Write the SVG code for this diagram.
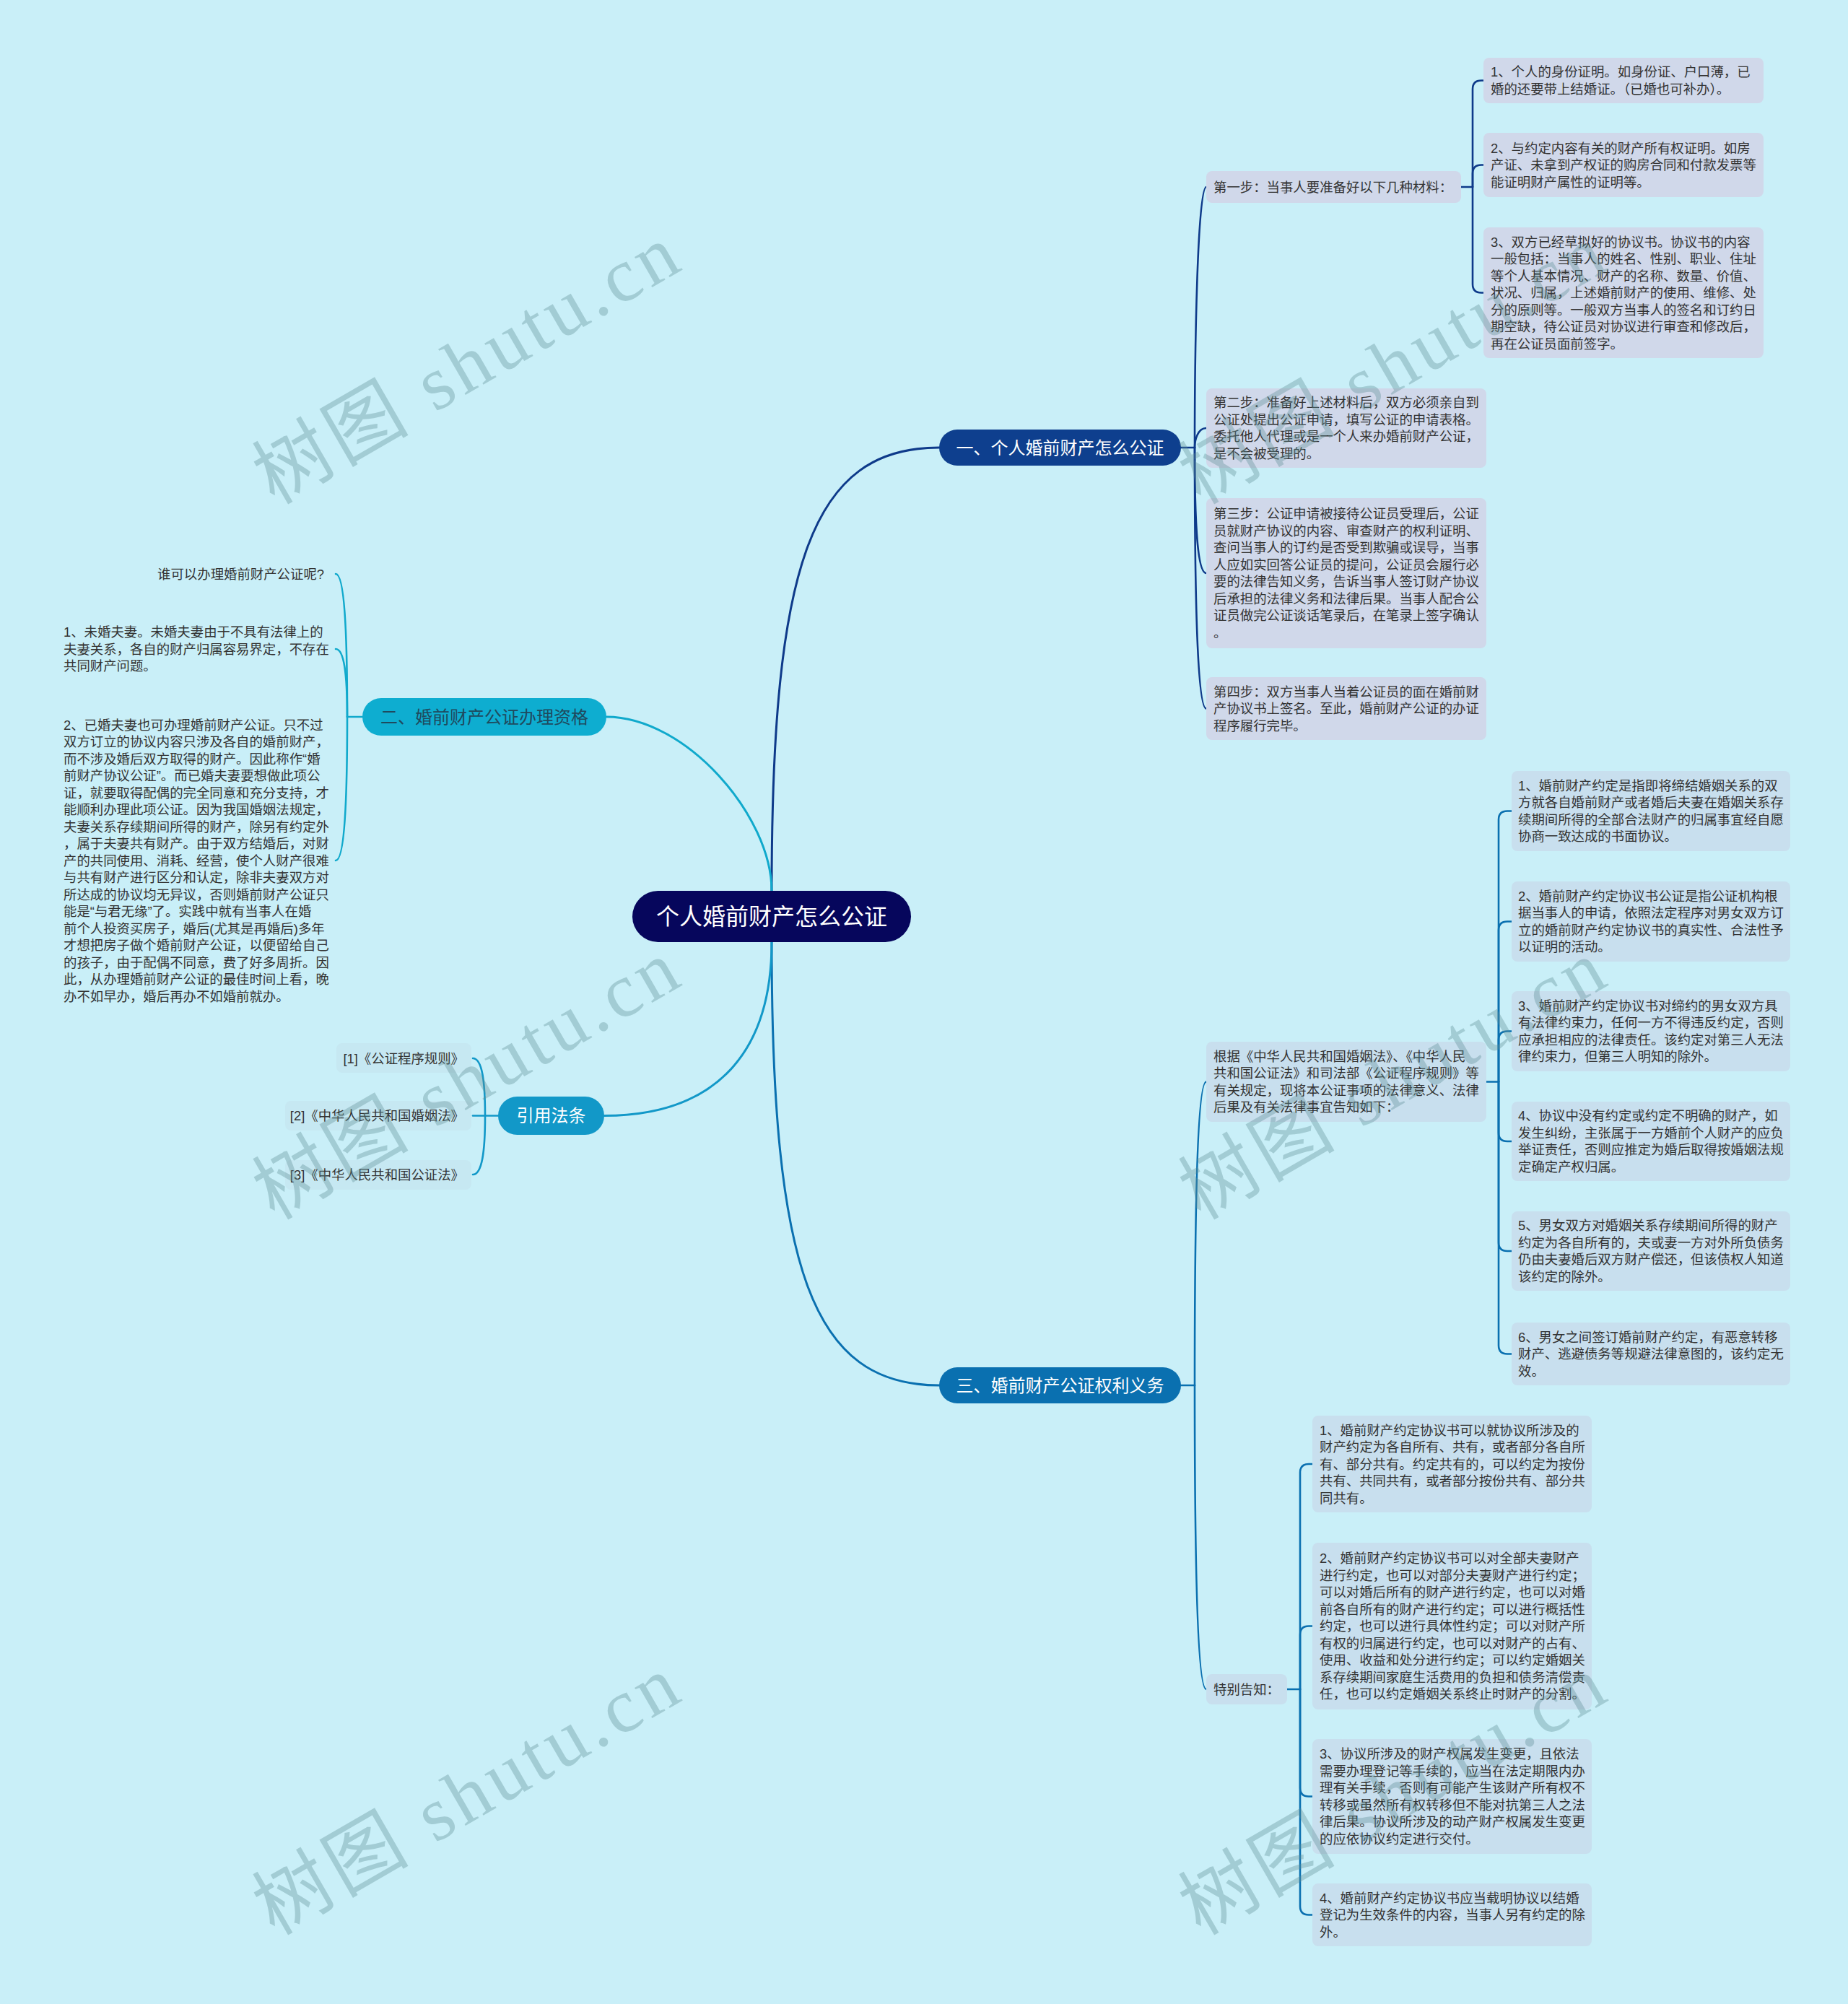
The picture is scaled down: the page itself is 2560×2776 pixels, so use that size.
<svg xmlns="http://www.w3.org/2000/svg" width="2560" height="2776" viewBox="0 0 2560 2776">
<style>
.t{font-family:"Liberation Sans","Noto Sans CJK SC",sans-serif;font-size:18.4px;fill:#333}
.h{font-family:"Liberation Sans","Noto Sans CJK SC",sans-serif;font-size:24px;fill:#fff;text-anchor:middle}
.r{font-family:"Liberation Sans","Noto Sans CJK SC",sans-serif;font-size:32px;fill:#fff;text-anchor:middle}
.b1{fill:#d0d8ea}
.b3{fill:#c8dfee}
.br{fill:#c6e8f2}
.lk{fill:none;stroke-width:2.6;stroke-linecap:round}
.m{fill:none;stroke-width:3;stroke-linecap:round}
.wm{font-family:"Liberation Serif","Noto Sans CJK SC",serif;font-size:106px;fill:#5f8f96;opacity:0.36;letter-spacing:6px}
</style>
<rect width="2560" height="2776" fill="#c9eff8"/>

<g id="connectors">
  <path class="m" stroke="#0e3a8a" d="M1069 1234 C1069 780 1125 620 1301 620"/>
  <path class="m" stroke="#0a70b0" d="M1069 1305 C1069 1759 1125 1919 1301 1919"/>
  <path class="m" stroke="#10a9cc" d="M1069 1234 C1069 1130 950 993 840 993"/>
  <path class="m" stroke="#1298c8" d="M1069 1305 C1069 1470 980 1545.5 837 1545.5"/>

  <g stroke="#0e3a8a">
    <path class="lk" d="M1636 620 H1655"/>
    <path class="lk" d="M1655 620 C1655 475.6 1659 259 1671 259"/>
    <path class="lk" d="M1655 620 C1655 609.8 1659 593 1671 593"/>
    <path class="lk" d="M1655 620 C1655 729.6 1659 794 1671 794"/>
    <path class="lk" d="M1655 620 C1655 836.9 1659 981.5 1671 981.5"/>
    <path class="lk" d="M2024 259 H2040"/>
    <path class="lk" d="M2040 259 V123.5 Q2040 111.5 2052 111.5 H2055"/>
    <path class="lk" d="M2040 259 V240.5 Q2040 228.5 2052 228.5 H2055"/>
    <path class="lk" d="M2040 259 V393.5 Q2040 405.5 2052 405.5 H2055"/>
  </g>

  <g stroke="#0a70b0">
    <path class="lk" d="M1636 1919 H1655"/>
    <path class="lk" d="M1655 1919 C1655 1667 1659 1498.5 1671 1498.5"/>
    <path class="lk" d="M1655 1919 C1655 2168.4 1659 2340 1671 2340"/>
    <path class="lk" d="M2059 1498.5 H2076"/>
    <path class="lk" d="M2076 1498.5 V1135.5 Q2076 1123.5 2088 1123.5 H2094"/>
    <path class="lk" d="M2076 1498.5 V1288.5 Q2076 1276.5 2088 1276.5 H2094"/>
    <path class="lk" d="M2076 1498.5 V1440.5 Q2076 1428.5 2088 1428.5 H2094"/>
    <path class="lk" d="M2076 1498.5 V1569 Q2076 1581 2088 1581 H2094"/>
    <path class="lk" d="M2076 1498.5 V1721 Q2076 1733 2088 1733 H2094"/>
    <path class="lk" d="M2076 1498.5 V1863.5 Q2076 1875.5 2088 1875.5 H2094"/>
    <path class="lk" d="M1783 2340 H1801"/>
    <path class="lk" d="M1801 2340 V2040 Q1801 2028 1813 2028 H1818"/>
    <path class="lk" d="M1801 2340 V2264.5 Q1801 2252.5 1813 2252.5 H1818"/>
    <path class="lk" d="M1801 2340 V2476.5 Q1801 2488.5 1813 2488.5 H1818"/>
    <path class="lk" d="M1801 2340 V2640.5 Q1801 2652.5 1813 2652.5 H1818"/>
  </g>

  <g stroke="#10a9cc">
    <path class="lk" d="M502 993 H481"/>
    <path class="lk" d="M481 993 C481 874 477 795 465 795"/>
    <path class="lk" d="M481 993 C481 936 477 899 465 899"/>
    <path class="lk" d="M481 993 C481 1112 477 1192 465 1192"/>
  </g>

  <g stroke="#1298c8">
    <path class="lk" d="M690 1545.5 H672"/>
    <path class="lk" d="M672 1545.5 C672 1498 668 1466 655 1466"/>
    <path class="lk" d="M672 1545.5 H655"/>
    <path class="lk" d="M672 1545.5 C672 1594 668 1627 655 1627"/>
  </g>
</g>

<g id="node-root">
  <rect x="876" y="1234" width="386" height="71" rx="35.5" fill="#06065c"/>
  <text class="r" x="1069" y="1281">个人婚前财产怎么公证</text>
</g>

<g id="node-b1">
  <rect x="1301" y="595" width="335" height="50" rx="25" fill="#0e3f8e"/>
  <text class="h" x="1468.5" y="628.6">一、个人婚前财产怎么公证</text>
</g>
<g id="node-b1-step1">
  <rect class="b1" x="1671" y="237" width="353" height="44" rx="8"/>
  <text class="t" x="1681" y="265.6">第一步：当事人要准备好以下几种材料：</text>
</g>
<g id="node-b1-step1-1">
  <rect class="b1" x="2055" y="80" width="388" height="63" rx="8"/>
  <text class="t" x="2065" y="106.35">1、个人的身份证明。如身份证、户口薄，已<tspan x="2065" dy="23.5">婚的还要带上结婚证。（已婚也可补办）。</tspan></text>
</g>
<g id="node-b1-step1-2">
  <rect class="b1" x="2055" y="184" width="388" height="89" rx="8"/>
  <text class="t" x="2065" y="211.6">2、与约定内容有关的财产所有权证明。如房<tspan x="2065" dy="23.5">产证、未拿到产权证的购房合同和付款发票等</tspan><tspan x="2065" dy="23.5">能证明财产属性的证明等。</tspan></text>
</g>
<g id="node-b1-step1-3">
  <rect class="b1" x="2055" y="315" width="388" height="181" rx="8"/>
  <text class="t" x="2065" y="341.6">3、双方已经草拟好的协议书。协议书的内容<tspan x="2065" dy="23.5">一般包括：当事人的姓名、性别、职业、住址</tspan><tspan x="2065" dy="23.5">等个人基本情况、财产的名称、数量、价值、</tspan><tspan x="2065" dy="23.5">状况、归属，上述婚前财产的使用、维修、处</tspan><tspan x="2065" dy="23.5">分的原则等。一般双方当事人的签名和订约日</tspan><tspan x="2065" dy="23.5">期空缺，待公证员对协议进行审查和修改后，</tspan><tspan x="2065" dy="23.5">再在公证员面前签字。</tspan></text>
</g>
<g id="node-b1-step2">
  <rect class="b1" x="1671" y="538" width="388" height="110" rx="8"/>
  <text class="t" x="1681" y="564.35">第二步：准备好上述材料后，双方必须亲自到<tspan x="1681" dy="23.5">公证处提出公证申请，填写公证的申请表格。</tspan><tspan x="1681" dy="23.5">委托他人代理或是一个人来办婚前财产公证，</tspan><tspan x="1681" dy="23.5">是不会被受理的。</tspan></text>
</g>
<g id="node-b1-step3">
  <rect class="b1" x="1671" y="690" width="388" height="208" rx="8"/>
  <text class="t" x="1681" y="718.35">第三步：公证申请被接待公证员受理后，公证<tspan x="1681" dy="23.5">员就财产协议的内容、审查财产的权利证明、</tspan><tspan x="1681" dy="23.5">查问当事人的订约是否受到欺骗或误导，当事</tspan><tspan x="1681" dy="23.5">人应如实回答公证员的提问，公证员会履行必</tspan><tspan x="1681" dy="23.5">要的法律告知义务，告诉当事人签订财产协议</tspan><tspan x="1681" dy="23.5">后承担的法律义务和法律后果。当事人配合公</tspan><tspan x="1681" dy="23.5">证员做完公证谈话笔录后，在笔录上签字确认</tspan><tspan x="1681" dy="23.5">。</tspan></text>
</g>
<g id="node-b1-step4">
  <rect class="b1" x="1671" y="938" width="388" height="87" rx="8"/>
  <text class="t" x="1681" y="964.6">第四步：双方当事人当着公证员的面在婚前财<tspan x="1681" dy="23.5">产协议书上签名。至此，婚前财产公证的办证</tspan><tspan x="1681" dy="23.5">程序履行完毕。</tspan></text>
</g>

<g id="node-b2">
  <rect x="502" y="967" width="338" height="52" rx="26" fill="#0eadd0"/>
  <text class="h" x="671" y="1001.6" style="fill:#1f4a5e">二、婚前财产公证办理资格</text>
</g>
<g id="node-b2-q">
  <text class="t" x="449" y="801.6" text-anchor="end">谁可以办理婚前财产公证呢?</text>
</g>
<g id="node-b2-1">
  <text class="t" x="88" y="882.1">1、未婚夫妻。未婚夫妻由于不具有法律上的<tspan x="88" dy="23.5">夫妻关系，各自的财产归属容易界定，不存在</tspan><tspan x="88" dy="23.5">共同财产问题。</tspan></text>
</g>
<g id="node-b2-2">
  <text class="t" x="88" y="1010.6">2、已婚夫妻也可办理婚前财产公证。只不过<tspan x="88" dy="23.5">双方订立的协议内容只涉及各自的婚前财产，</tspan><tspan x="88" dy="23.5">而不涉及婚后双方取得的财产。因此称作“婚</tspan><tspan x="88" dy="23.5">前财产协议公证”。而已婚夫妻要想做此项公</tspan><tspan x="88" dy="23.5">证，就要取得配偶的完全同意和充分支持，才</tspan><tspan x="88" dy="23.5">能顺利办理此项公证。因为我国婚姻法规定，</tspan><tspan x="88" dy="23.5">夫妻关系存续期间所得的财产，除另有约定外</tspan><tspan x="88" dy="23.5">，属于夫妻共有财产。由于双方结婚后，对财</tspan><tspan x="88" dy="23.5">产的共同使用、消耗、经营，使个人财产很难</tspan><tspan x="88" dy="23.5">与共有财产进行区分和认定，除非夫妻双方对</tspan><tspan x="88" dy="23.5">所达成的协议均无异议，否则婚前财产公证只</tspan><tspan x="88" dy="23.5">能是“与君无缘”了。实践中就有当事人在婚</tspan><tspan x="88" dy="23.5">前个人投资买房子，婚后(尤其是再婚后)多年</tspan><tspan x="88" dy="23.5">才想把房子做个婚前财产公证，以便留给自己</tspan><tspan x="88" dy="23.5">的孩子，由于配偶不同意，费了好多周折。因</tspan><tspan x="88" dy="23.5">此，从办理婚前财产公证的最佳时间上看，晚</tspan><tspan x="88" dy="23.5">办不如早办，婚后再办不如婚前就办。</tspan></text>
</g>

<g id="node-cite">
  <rect x="690" y="1519" width="147" height="53" rx="26.5" fill="#1298c8"/>
  <text class="h" x="763.5" y="1554">引用法条</text>
</g>
<g id="node-cite-1">
  <rect class="br" x="466" y="1445" width="187" height="41" rx="8"/>
  <text class="t" x="643" y="1472.6" text-anchor="end">[1]《公证程序规则》</text>
</g>
<g id="node-cite-2">
  <rect class="br" x="395" y="1525" width="258" height="41" rx="8"/>
  <text class="t" x="643" y="1551.6" text-anchor="end">[2]《中华人民共和国婚姻法》</text>
</g>
<g id="node-cite-3">
  <rect class="br" x="395" y="1607" width="258" height="41" rx="8"/>
  <text class="t" x="643" y="1633.6" text-anchor="end">[3]《中华人民共和国公证法》</text>
</g>

<g id="node-b3">
  <rect x="1301" y="1894" width="335" height="50" rx="25" fill="#0a70b0"/>
  <text class="h" x="1468.5" y="1927.6">三、婚前财产公证权利义务</text>
</g>
<g id="node-b3-basis">
  <rect class="b3" x="1671" y="1443" width="388" height="111" rx="8"/>
  <text class="t" x="1681" y="1469.85">根据《中华人民共和国婚姻法》、《中华人民<tspan x="1681" dy="23.5">共和国公证法》和司法部《公证程序规则》等</tspan><tspan x="1681" dy="23.5">有关规定，现将本公证事项的法律意义、法律</tspan><tspan x="1681" dy="23.5">后果及有关法律事宜告知如下：</tspan></text>
</g>
<g id="node-b3-basis-1">
  <rect class="b3" x="2094" y="1068" width="386" height="111" rx="8"/>
  <text class="t" x="2103" y="1094.85">1、婚前财产约定是指即将缔结婚姻关系的双<tspan x="2103" dy="23.5">方就各自婚前财产或者婚后夫妻在婚姻关系存</tspan><tspan x="2103" dy="23.5">续期间所得的全部合法财产的归属事宜经自愿</tspan><tspan x="2103" dy="23.5">协商一致达成的书面协议。</tspan></text>
</g>
<g id="node-b3-basis-2">
  <rect class="b3" x="2094" y="1221" width="386" height="111" rx="8"/>
  <text class="t" x="2103" y="1247.85">2、婚前财产约定协议书公证是指公证机构根<tspan x="2103" dy="23.5">据当事人的申请，依照法定程序对男女双方订</tspan><tspan x="2103" dy="23.5">立的婚前财产约定协议书的真实性、合法性予</tspan><tspan x="2103" dy="23.5">以证明的活动。</tspan></text>
</g>
<g id="node-b3-basis-3">
  <rect class="b3" x="2094" y="1373" width="386" height="111" rx="8"/>
  <text class="t" x="2103" y="1399.85">3、婚前财产约定协议书对缔约的男女双方具<tspan x="2103" dy="23.5">有法律约束力，任何一方不得违反约定，否则</tspan><tspan x="2103" dy="23.5">应承担相应的法律责任。该约定对第三人无法</tspan><tspan x="2103" dy="23.5">律约束力，但第三人明知的除外。</tspan></text>
</g>
<g id="node-b3-basis-4">
  <rect class="b3" x="2094" y="1526" width="386" height="110" rx="8"/>
  <text class="t" x="2103" y="1552.35">4、协议中没有约定或约定不明确的财产，如<tspan x="2103" dy="23.5">发生纠纷，主张属于一方婚前个人财产的应负</tspan><tspan x="2103" dy="23.5">举证责任，否则应推定为婚后取得按婚姻法规</tspan><tspan x="2103" dy="23.5">定确定产权归属。</tspan></text>
</g>
<g id="node-b3-basis-5">
  <rect class="b3" x="2094" y="1678" width="386" height="110" rx="8"/>
  <text class="t" x="2103" y="1704.35">5、男女双方对婚姻关系存续期间所得的财产<tspan x="2103" dy="23.5">约定为各自所有的，夫或妻一方对外所负债务</tspan><tspan x="2103" dy="23.5">仍由夫妻婚后双方财产偿还，但该债权人知道</tspan><tspan x="2103" dy="23.5">该约定的除外。</tspan></text>
</g>
<g id="node-b3-basis-6">
  <rect class="b3" x="2094" y="1832" width="386" height="87" rx="8"/>
  <text class="t" x="2103" y="1858.6">6、男女之间签订婚前财产约定，有恶意转移<tspan x="2103" dy="23.5">财产、逃避债务等规避法律意图的，该约定无</tspan><tspan x="2103" dy="23.5">效。</tspan></text>
</g>
<g id="node-b3-notice">
  <rect class="b3" x="1671" y="2319" width="112" height="42" rx="8"/>
  <text class="t" x="1681" y="2346.6">特别告知：</text>
</g>
<g id="node-b3-notice-1">
  <rect class="b3" x="1818" y="1961" width="387" height="134" rx="8"/>
  <text class="t" x="1828" y="1987.6">1、婚前财产约定协议书可以就协议所涉及的<tspan x="1828" dy="23.5">财产约定为各自所有、共有，或者部分各自所</tspan><tspan x="1828" dy="23.5">有、部分共有。约定共有的，可以约定为按份</tspan><tspan x="1828" dy="23.5">共有、共同共有，或者部分按份共有、部分共</tspan><tspan x="1828" dy="23.5">同共有。</tspan></text>
</g>
<g id="node-b3-notice-2">
  <rect class="b3" x="1818" y="2137" width="387" height="231" rx="8"/>
  <text class="t" x="1828" y="2165.1">2、婚前财产约定协议书可以对全部夫妻财产<tspan x="1828" dy="23.5">进行约定，也可以对部分夫妻财产进行约定；</tspan><tspan x="1828" dy="23.5">可以对婚后所有的财产进行约定，也可以对婚</tspan><tspan x="1828" dy="23.5">前各自所有的财产进行约定；可以进行概括性</tspan><tspan x="1828" dy="23.5">约定，也可以进行具体性约定；可以对财产所</tspan><tspan x="1828" dy="23.5">有权的归属进行约定，也可以对财产的占有、</tspan><tspan x="1828" dy="23.5">使用、收益和处分进行约定；可以约定婚姻关</tspan><tspan x="1828" dy="23.5">系存续期间家庭生活费用的负担和债务清偿责</tspan><tspan x="1828" dy="23.5">任，也可以约定婚姻关系终止时财产的分割。</tspan></text>
</g>
<g id="node-b3-notice-3">
  <rect class="b3" x="1818" y="2409" width="387" height="159" rx="8"/>
  <text class="t" x="1828" y="2436.35">3、协议所涉及的财产权属发生变更，且依法<tspan x="1828" dy="23.5">需要办理登记等手续的，应当在法定期限内办</tspan><tspan x="1828" dy="23.5">理有关手续，否则有可能产生该财产所有权不</tspan><tspan x="1828" dy="23.5">转移或虽然所有权转移但不能对抗第三人之法</tspan><tspan x="1828" dy="23.5">律后果。协议所涉及的动产财产权属发生变更</tspan><tspan x="1828" dy="23.5">的应依协议约定进行交付。</tspan></text>
</g>
<g id="node-b3-notice-4">
  <rect class="b3" x="1818" y="2609" width="387" height="87" rx="8"/>
  <text class="t" x="1828" y="2635.6">4、婚前财产约定协议书应当载明协议以结婚<tspan x="1828" dy="23.5">登记为生效条件的内容，当事人另有约定的除</tspan><tspan x="1828" dy="23.5">外。</tspan></text>
</g>

<g id="watermark">
  <text class="wm" transform="translate(380 700) rotate(-30)">树图 shutu.cn</text>
  <text class="wm" transform="translate(380 1691) rotate(-30)">树图 shutu.cn</text>
  <text class="wm" transform="translate(380 2682) rotate(-30)">树图 shutu.cn</text>
  <text class="wm" transform="translate(1663 700) rotate(-30)">树图 shutu.cn</text>
  <text class="wm" transform="translate(1663 1691) rotate(-30)">树图 shutu.cn</text>
  <text class="wm" transform="translate(1663 2682) rotate(-30)">树图 shutu.cn</text>
</g>
</svg>
